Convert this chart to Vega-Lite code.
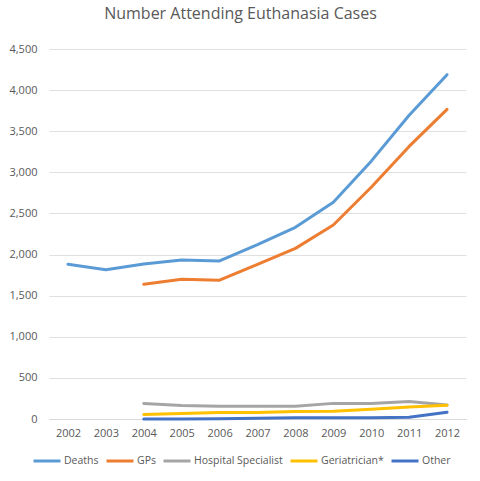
{
  "$schema": "https://vega.github.io/schema/vega-lite/v6.json",
  "autosize": "none",
  "width": 417,
  "height": 370,
  "padding": {"left": 49, "top": 49, "right": 14, "bottom": 62},
  "background": "white",
  "config": {
    "font": "Open Sans",
    "view": {"stroke": null},
    "axis": {"labelColor": "#595959", "labelFontSize": 11, "titleColor": "#595959"}
  },
  "title": {
    "text": "Number Attending Euthanasia Cases",
    "fontSize": 16,
    "fontWeight": "normal",
    "color": "#595959",
    "font": "Open Sans",
    "anchor": "middle",
    "dx": -17,
    "offset": 21
  },
  "data": {
    "values": [
      {"year": "2002", "series": "Deaths", "value": 1882},
      {"year": "2003", "series": "Deaths", "value": 1815},
      {"year": "2004", "series": "Deaths", "value": 1886},
      {"year": "2005", "series": "Deaths", "value": 1933},
      {"year": "2006", "series": "Deaths", "value": 1923},
      {"year": "2007", "series": "Deaths", "value": 2120},
      {"year": "2008", "series": "Deaths", "value": 2331},
      {"year": "2009", "series": "Deaths", "value": 2636},
      {"year": "2010", "series": "Deaths", "value": 3136},
      {"year": "2011", "series": "Deaths", "value": 3695},
      {"year": "2012", "series": "Deaths", "value": 4188},
      {"year": "2004", "series": "GPs", "value": 1638},
      {"year": "2005", "series": "GPs", "value": 1699},
      {"year": "2006", "series": "GPs", "value": 1688},
      {"year": "2007", "series": "GPs", "value": 1880},
      {"year": "2008", "series": "GPs", "value": 2075},
      {"year": "2009", "series": "GPs", "value": 2359},
      {"year": "2010", "series": "GPs", "value": 2819},
      {"year": "2011", "series": "GPs", "value": 3315},
      {"year": "2012", "series": "GPs", "value": 3766},
      {"year": "2004", "series": "Hospital Specialist", "value": 190},
      {"year": "2005", "series": "Hospital Specialist", "value": 165},
      {"year": "2006", "series": "Hospital Specialist", "value": 155},
      {"year": "2007", "series": "Hospital Specialist", "value": 155},
      {"year": "2008", "series": "Hospital Specialist", "value": 155},
      {"year": "2009", "series": "Hospital Specialist", "value": 190},
      {"year": "2010", "series": "Hospital Specialist", "value": 190},
      {"year": "2011", "series": "Hospital Specialist", "value": 212},
      {"year": "2012", "series": "Hospital Specialist", "value": 170},
      {"year": "2004", "series": "Geriatrician*", "value": 55},
      {"year": "2005", "series": "Geriatrician*", "value": 68},
      {"year": "2006", "series": "Geriatrician*", "value": 78},
      {"year": "2007", "series": "Geriatrician*", "value": 80},
      {"year": "2008", "series": "Geriatrician*", "value": 90},
      {"year": "2009", "series": "Geriatrician*", "value": 95},
      {"year": "2010", "series": "Geriatrician*", "value": 118},
      {"year": "2011", "series": "Geriatrician*", "value": 145},
      {"year": "2012", "series": "Geriatrician*", "value": 168},
      {"year": "2004", "series": "Other", "value": 0},
      {"year": "2005", "series": "Other", "value": 1},
      {"year": "2006", "series": "Other", "value": 3},
      {"year": "2007", "series": "Other", "value": 10},
      {"year": "2008", "series": "Other", "value": 15},
      {"year": "2009", "series": "Other", "value": 15},
      {"year": "2010", "series": "Other", "value": 14},
      {"year": "2011", "series": "Other", "value": 20},
      {"year": "2012", "series": "Other", "value": 82}
    ]
  },
  "mark": {"type": "line", "strokeWidth": 3, "strokeJoin": "round", "strokeCap": "round"},
  "encoding": {
    "x": {
      "field": "year",
      "type": "ordinal",
      "scale": {"type": "point", "padding": 0.5},
      "axis": {
        "title": null,
        "labelAngle": 0,
        "ticks": false,
        "domain": true,
        "domainColor": "#D9D9D9",
        "labelPadding": 8,
        "grid": false
      }
    },
    "y": {
      "field": "value",
      "type": "quantitative",
      "scale": {"domain": [0, 4500], "nice": false},
      "axis": {
        "title": null,
        "values": [0, 500, 1000, 1500, 2000, 2500, 3000, 3500, 4000, 4500],
        "format": ",d",
        "ticks": false,
        "domain": false,
        "gridColor": "#E0E0E0",
        "labelPadding": 12
      }
    },
    "color": {
      "field": "series",
      "type": "nominal",
      "sort": ["Deaths", "GPs", "Hospital Specialist", "Geriatrician*", "Other"],
      "scale": {
        "domain": ["Deaths", "GPs", "Hospital Specialist", "Geriatrician*", "Other"],
        "range": ["#5B9BD5", "#ED7D31", "#A5A5A5", "#FFC000", "#4472C4"]
      },
      "legend": {
        "title": null,
        "orient": "none",
        "direction": "horizontal",
        "legendX": -17,
        "legendY": 397,
        "symbolType": "stroke",
        "symbolSize": 729,
        "symbolStrokeWidth": 3,
        "labelFontSize": 10.5,
        "labelColor": "#595959",
        "labelOffset": 2,
        "columnPadding": 1,
        "symbolOffset": 0
      }
    }
  }
}
